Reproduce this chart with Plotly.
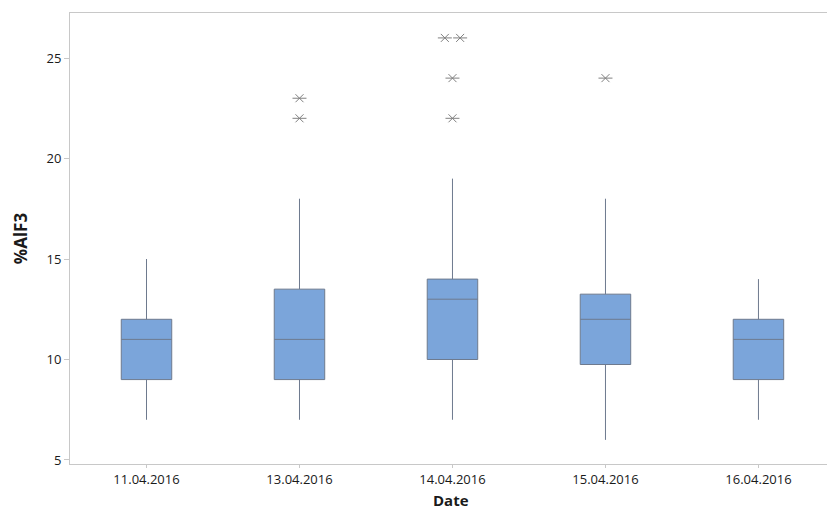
import plotly.graph_objects as go

# Daily %AlF3 distributions (Minitab-style summary)
dates = ["11.04.2016", "13.04.2016", "14.04.2016", "15.04.2016", "16.04.2016"]
lower_whisker = [7, 7, 7, 6, 7]
q1 = [9, 9, 10, 9.75, 9]
median = [11, 11, 13, 12, 11]
q3 = [12, 13.5, 14, 13.25, 12]
upper_whisker = [15, 18, 19, 18, 14]
outliers = [[], [22, 23], [22, 24, 26, 26], [24], []]

pos = list(range(len(dates)))

fig = go.Figure()
fig.add_trace(go.Box(
    x=pos, q1=q1, median=median, q3=q3,
    lowerfence=lower_whisker, upperfence=upper_whisker,
    width=0.33, whiskerwidth=0,
    fillcolor="#7BA5DA",
    line=dict(color="#6e7a8e", width=1),
    boxpoints=False, showlegend=False, hoverinfo="skip",
))

# Outlier symbols; repeated values are placed side by side
ox, oy = [], []
for i, vals in enumerate(outliers):
    counts = {}
    for v in vals:
        counts[v] = counts.get(v, 0) + 1
    for v, n in counts.items():
        for k in range(n):
            ox.append(i + (k - (n - 1) / 2) * 0.1)
            oy.append(v)

for sym, sz in [("x-thin-open", 8), ("line-ew-open", 10)]:
    fig.add_trace(go.Scatter(
        x=ox, y=oy, mode="markers", showlegend=False, hoverinfo="skip",
        marker=dict(symbol=sym, size=sz,
                    line=dict(color="#808080", width=1), color="#808080"),
    ))

fig.update_layout(
    width=827, height=511,
    margin=dict(l=70, r=0, t=13, b=47),
    plot_bgcolor="white", paper_bgcolor="white",
    font=dict(family="Open Sans", size=13, color="#1a1a1a"),
    annotations=[dict(
        text="<b>Date</b>", xref="paper", yref="paper",
        x=0.5035, y=-0.1042, xanchor="center", yanchor="bottom",
        showarrow=False, font=dict(size=15), borderpad=0,
    )],
)
fig.update_xaxes(
    range=[-0.5, 4.448], tickvals=pos, ticktext=dates,
    showline=True, linecolor="#c8c8c8", linewidth=1, mirror=True,
    ticks="outside", ticklen=3, tickcolor="#c8c8c8",
    showgrid=False, zeroline=False,
)
fig.update_yaxes(
    range=[4.80, 27.24], tickvals=[5, 10, 15, 20, 25],
    showline=True, linecolor="#c8c8c8", linewidth=1,
    ticks="outside", ticklen=5, tickcolor="#c8c8c8",
    showgrid=False, zeroline=False,
    title=dict(text="<b>%AlF3</b>", font=dict(size=17), standoff=14),
)

fig.write_html("out.html")
